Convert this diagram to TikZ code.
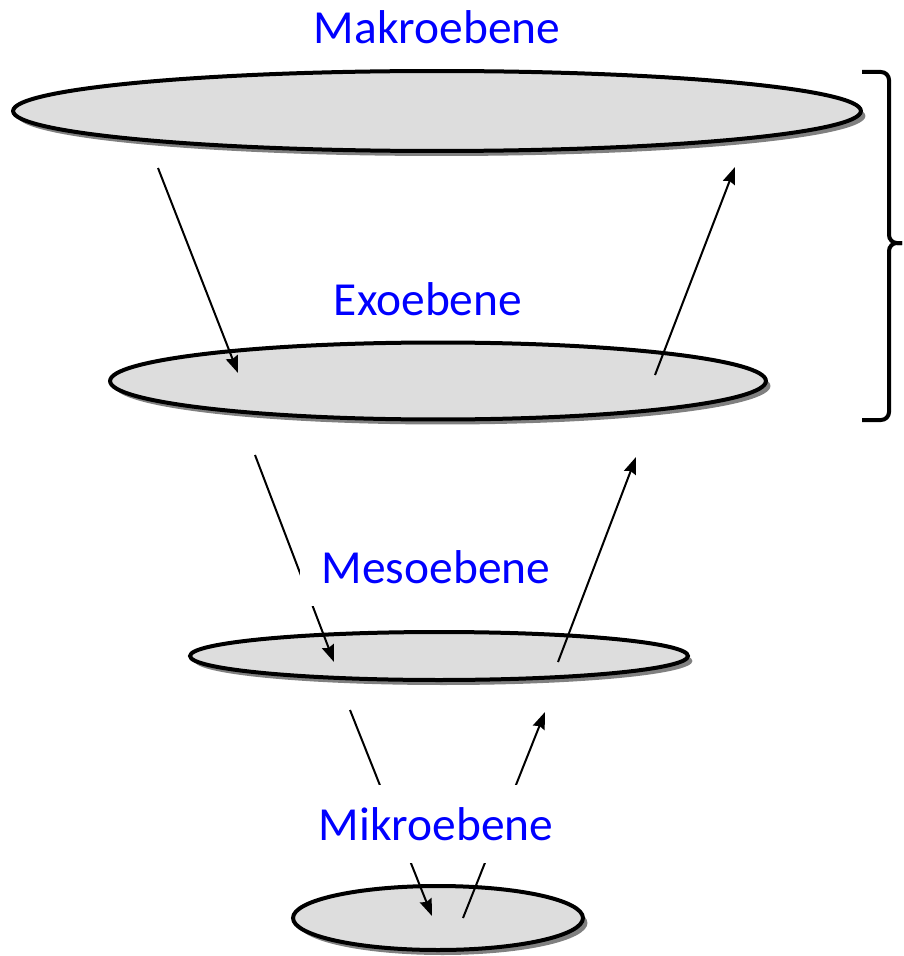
\documentclass[tikz,border=0pt]{standalone}
\usepackage{fontspec}
\setmainfont{Carlito}
\usepackage{tikz}
\usetikzlibrary{shapes,arrows.meta,positioning,shadows}

\definecolor{ebenegrau}{RGB}{221,221,221}
\tikzset{
  ebene/.style={ellipse, draw, line width=0.08cm, fill=ebenegrau, inner sep=0pt,
    drop shadow={shadow xshift=0.09cm, shadow yshift=-0.1cm, fill=black!50, opacity=1}},
  titel/.style={text=blue, fill=white, inner xsep=0.44cm, minimum height=1.56cm,
    font=\fontsize{27}{32}\selectfont},
  pfeil/.style={line width=0.04cm, -{Stealth[length=0.34cm, width=0.25cm, inset=0.04cm]}},
  klammer/.style={line width=0.08cm, rounded corners=0.16cm}
}

\begin{document}
\begin{tikzpicture}[x=0.02cm, y=-0.02cm]
    \useasboundingbox (0,0) rectangle (903,956);

    % Ebenen
    \foreach \n/\x/\y/\w/\h in {makro/437/111/16.96/1.6, exo/438/381/13.12/1.54, meso/439/656/9.96/0.96, mikro/438/918/5.8/1.28} {
        \node[ebene, minimum width=\w cm, minimum height=\h cm] (\n) at (\x,\y) {};
    }

    % Pfeile
    \foreach \a/\xa/\ya/\b/\xb/\yb in {ab1/158/168/ab1e/238/373, auf1/655/375/auf1e/735/167,
        ab2/255/455/ab2e/334/662, auf2/558/662/auf2e/636/457,
        ab3/350/710/ab3e/432/916, auf3/463/918/auf3e/545/712} {
        \coordinate (\a) at (\xa,\ya);
        \coordinate (\b) at (\xb,\yb);
        \draw[pfeil] (\a) -- (\b);
    }

    % Beschriftungen
    \node[titel] (makrotext) at (437,27) {Makroebene};
    \node[titel] (exotext) at (428,299) {Exoebene};
    \node[titel] (mesotext) at (436,567) {Mesoebene};
    \node[titel] (mikrotext) at (436,824) {Mikroebene};

    % Klammer
    \draw[klammer] (862,72) -- (889,72) -- (889,243) -- (902,243);
    \draw[klammer] (902,243) -- (889,243) -- (889,420) -- (862,420);
\end{tikzpicture}
\end{document}
